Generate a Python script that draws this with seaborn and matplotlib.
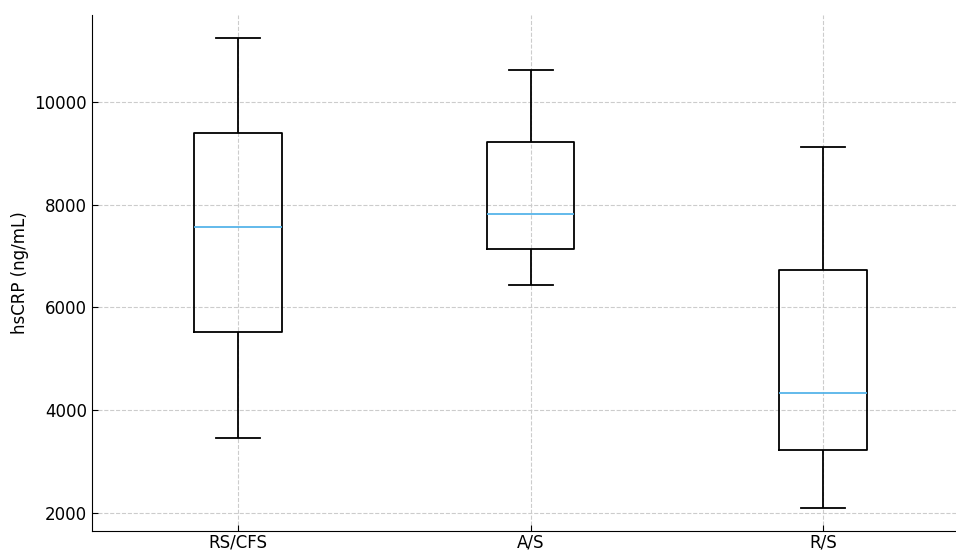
import pandas as pd
import matplotlib.pyplot as plt
import seaborn as sns

# group labels and the five-number summary
groups = ['RS/CFS', 'A/S', 'R/S']
whisker_low = [3460, 6437, 2097]
q1 = [5522, 7137, 3226]
median = [7566, 7825, 4335]
q3 = [9395, 9220, 6729]
whisker_high = [11245, 10621, 9122]

rows = []
for i, g in enumerate(groups):
    for v in [whisker_low[i], q1[i], median[i], q3[i], whisker_high[i]]:
        rows.append({'group': g, 'hsCRP': v})
df = pd.DataFrame(rows)

fig = plt.figure(figsize=(9.56, 5.5), dpi=100)
ax = fig.add_axes([0.096, 0.0345, 0.918, 0.9385])

sns.boxplot(data=df, x='group', y='hsCRP', ax=ax, width=0.3, whis=(0, 100),
            fill=False, color='black', linewidth=1.3,
            medianprops={'color': '#56B4E9', 'linewidth': 1.3})

ax.set_xlabel('')
ax.set_ylabel('hsCRP (ng/mL)', fontsize=12)
ax.tick_params(axis='both', direction='in', labelsize=12, length=4)
ax.tick_params(axis='x', pad=1.5)
ax.grid(True, linestyle='--', color='#cccccc', linewidth=0.8)
ax.set_axisbelow(True)
ax.spines['top'].set_visible(False)
ax.spines['right'].set_visible(False)
ax.set_xlim(-0.5, 2.5)

plt.savefig('out.png', dpi=100)
